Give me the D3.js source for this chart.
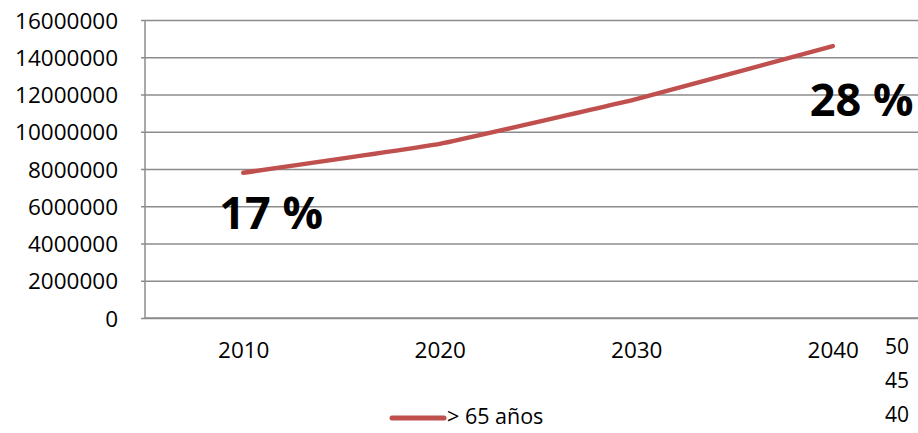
<!DOCTYPE html>
<html>
<head>
<meta charset="utf-8">
<script src="https://cdn.jsdelivr.net/npm/d3@7"></script>
<style>
  body { margin: 0; background: #fff; overflow: hidden; }
  svg { display: block; }
  text { font-family: 'Open Sans', sans-serif; }
</style>
</head>
<body>
<div id="chart"></div>
<script>
const years = ['2010', '2020', '2030', '2040'];
const over65 = [7800000, 9350000, 11750000, 14600000];
const yTicks = [0, 2000000, 4000000, 6000000, 8000000, 10000000, 12000000, 14000000, 16000000];
const seriesName = '> 65 años';
const notes = [{ year: '2010', label: '17 %' }, { year: '2040', label: '28 %' }];
const cutLabels = ['50', '45', '40'];

function drawChart(element) {
  const width = 918;
  const height = 433;
  const left = 145;
  const top = 20;
  const bottom = 318;
  const right = 931; // plot area runs past the window edge
  const fontSize = 22.5;

  const svg = d3.select(element).append('svg')
    .attr('width', width)
    .attr('height', height);

  const x = d3.scalePoint()
    .domain(years)
    .range([left, right])
    .padding(0.5);

  const y = d3.scaleLinear()
    .domain([0, 16000000])
    .range([bottom, top]);

  // gridlines + y labels
  const yAxis = svg.append('g')
    .attr('transform', `translate(${left},0)`)
    .call(d3.axisLeft(y)
      .tickValues(yTicks)
      .tickSize(-(right - left))
      .tickSizeOuter(0)
      .tickPadding(27)
      .tickFormat(d3.format('d')));
  yAxis.select('.domain').remove();
  yAxis.selectAll('.tick line')
    .attr('stroke', '#8c8c8c')
    .attr('stroke-width', 1.3)
    .attr('x1', -4);
  yAxis.selectAll('.tick text')
    .attr('fill', '#000')
    .attr('font-size', fontSize)
    .attr('dy', '0.36em');

  // axis lines
  svg.append('line')
    .attr('x1', left).attr('x2', left)
    .attr('y1', top).attr('y2', bottom)
    .attr('stroke', '#8c8c8c').attr('stroke-width', 1.5);
  svg.append('line')
    .attr('x1', left).attr('x2', right)
    .attr('y1', bottom).attr('y2', bottom)
    .attr('stroke', '#8c8c8c').attr('stroke-width', 1.5);

  // x labels
  const xAxis = svg.append('g')
    .attr('transform', `translate(0,${bottom})`)
    .call(d3.axisBottom(x).tickSize(0).tickPadding(24));
  xAxis.select('.domain').remove();
  xAxis.selectAll('.tick text')
    .attr('fill', '#000')
    .attr('font-size', fontSize);

  // series line
  const line = d3.line()
    .x((d, i) => x(years[i]))
    .y(d => y(d))
    .curve(d3.curveCardinal.tension(0.75));

  svg.append('path')
    .datum(over65)
    .attr('d', line)
    .attr('fill', 'none')
    .attr('stroke', '#c0504d')
    .attr('stroke-width', 4.5)
    .attr('stroke-linecap', 'round');

  // percentage notes
  svg.append('text')
    .attr('x', x(notes[0].year) - 24)
    .attr('y', 229)
    .attr('font-size', 45)
    .attr('font-weight', 'bold')
    .text(notes[0].label);
  svg.append('text')
    .attr('x', x(notes[1].year) - 23)
    .attr('y', 116)
    .attr('font-size', 45)
    .attr('font-weight', 'bold')
    .text(notes[1].label);

  // legend
  const legend = svg.append('g').attr('transform', 'translate(392,418)');
  legend.append('line')
    .attr('x1', 0).attr('x2', 52)
    .attr('stroke', '#c0504d')
    .attr('stroke-width', 5)
    .attr('stroke-linecap', 'round');
  legend.append('text')
    .attr('x', 55)
    .attr('dy', '0.3em')
    .attr('font-size', 21.5)
    .text(seriesName);

  // labels of the next chart, at the window edge
  svg.selectAll('.cut')
    .data(cutLabels)
    .enter()
    .append('text')
    .attr('class', 'cut')
    .attr('x', 885)
    .attr('y', (d, i) => 348 + i * 34)
    .attr('dy', '0.3em')
    .attr('font-size', 21)
    .text(d => d);
}

drawChart(document.getElementById('chart'));
</script>
</body>
</html>
